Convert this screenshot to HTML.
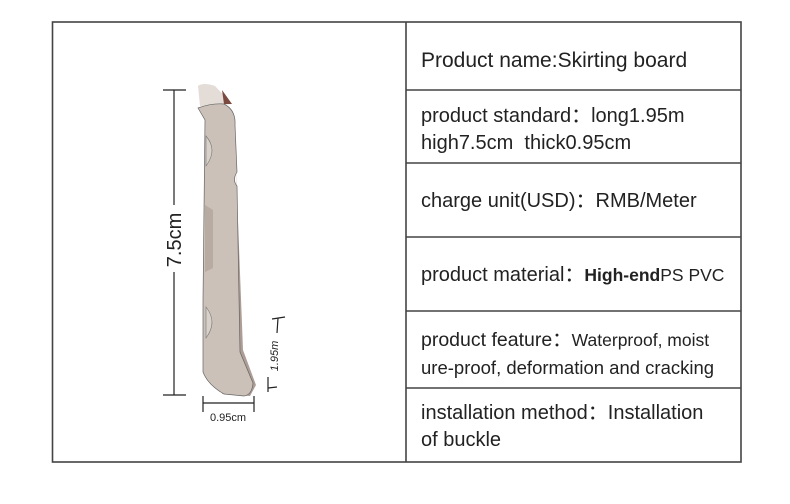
<!DOCTYPE html>
<html><head><meta charset="utf-8"><style>
body{margin:0;width:790px;height:504px;background:#fff;position:relative;overflow:hidden;font-family:"Liberation Sans","Noto Sans CJK SC",sans-serif;color:#222}
.t{position:absolute;left:421px;font-size:20px;line-height:27px;white-space:nowrap}
</style></head><body>
<svg width="790" height="504" style="position:absolute;left:0;top:0">
<g stroke="#444" stroke-width="1.6" fill="none">
<rect x="52.5" y="22" width="688.5" height="440"/>
<line x1="406" y1="22" x2="406" y2="462"/>
<line x1="406" y1="90" x2="741" y2="90"/>
<line x1="406" y1="163" x2="741" y2="163"/>
<line x1="406" y1="237" x2="741" y2="237"/>
<line x1="406" y1="311" x2="741" y2="311"/>
<line x1="406" y1="388" x2="741" y2="388"/>
</g>
<g stroke="#222" stroke-width="1.2">
<line x1="174" y1="90" x2="174" y2="205"/>
<line x1="174" y1="272" x2="174" y2="395"/>
<line x1="163" y1="90" x2="186" y2="90"/>
<line x1="163" y1="395" x2="186" y2="395"/>
<line x1="203" y1="403" x2="254" y2="403"/>
<line x1="203" y1="396" x2="203" y2="412"/>
<line x1="254" y1="396" x2="254" y2="412"/>
<line x1="278" y1="318" x2="277" y2="333"/>
<line x1="272" y1="319" x2="285" y2="317"/>
<line x1="268" y1="377" x2="268" y2="392"/>
<line x1="268" y1="388" x2="277" y2="387"/>
</g>
<text x="0" y="0" transform="translate(181,240) rotate(-90)" text-anchor="middle" font-family="Liberation Sans" font-size="20" fill="#222">7.5cm</text>
<text x="0" y="0" transform="translate(278,356) rotate(-90)" text-anchor="middle" font-family="Liberation Sans" font-size="11" fill="#222" font-style="italic">1.95m</text>
<text x="228" y="421" text-anchor="middle" font-family="Liberation Sans" font-size="11" fill="#222">0.95cm</text>
<path d="M236,170 L243,350 L256,385 L250,396 L222,394 L240,360 Z" fill="#8a7468" opacity="0.7"/>
<path d="M198,86 Q203,82 215,86 L232,104 L222,105 L200,106 Z" fill="#e4ddd7"/>
<path d="M222,90 L232,104 L224,104 Z" fill="#7a4a40"/>
<path d="M198,108 Q212,103 224,104 Q236,110 235,125 L237,172 Q232,180 237,186 L240,352 L253,383 Q252,395 244,396 L224,394 Q208,385 203,372 L203,300 L205,120 Z" fill="#cbc1b8" stroke="#666" stroke-width="0.7"/>
<path d="M206,136 Q218,150 206,166 Z" fill="#d8d1ca" stroke="#777" stroke-width="0.6"/>
<path d="M206,307 Q218,322 206,338 Z" fill="#d8d1ca" stroke="#777" stroke-width="0.6"/>
<path d="M205,205 L213,210 L213,268 L205,272 Z" fill="#b8aba1"/>
</svg>
<div class="t" style="top:47px;font-size:21px">Product name:Skirting board</div>
<div class="t" style="top:103px">product standard：long1.95m<br>high7.5cm&nbsp; thick0.95cm</div>
<div class="t" style="top:188px">charge unit(USD)：RMB/Meter</div>
<div class="t" style="top:262px">product material：<span style="font-size:17.5px;font-weight:bold">High-end</span><span style="font-size:17.5px">PS PVC</span></div>
<div class="t" style="top:327px;font-size:19.5px">product feature：<span style="font-size:17.5px">Waterproof, moist</span><br><span style="font-size:18.5px">ure-proof, deformation and cracking</span></div>
<div class="t" style="top:400px">installation method：Installation<br>of buckle</div>
</body></html>
